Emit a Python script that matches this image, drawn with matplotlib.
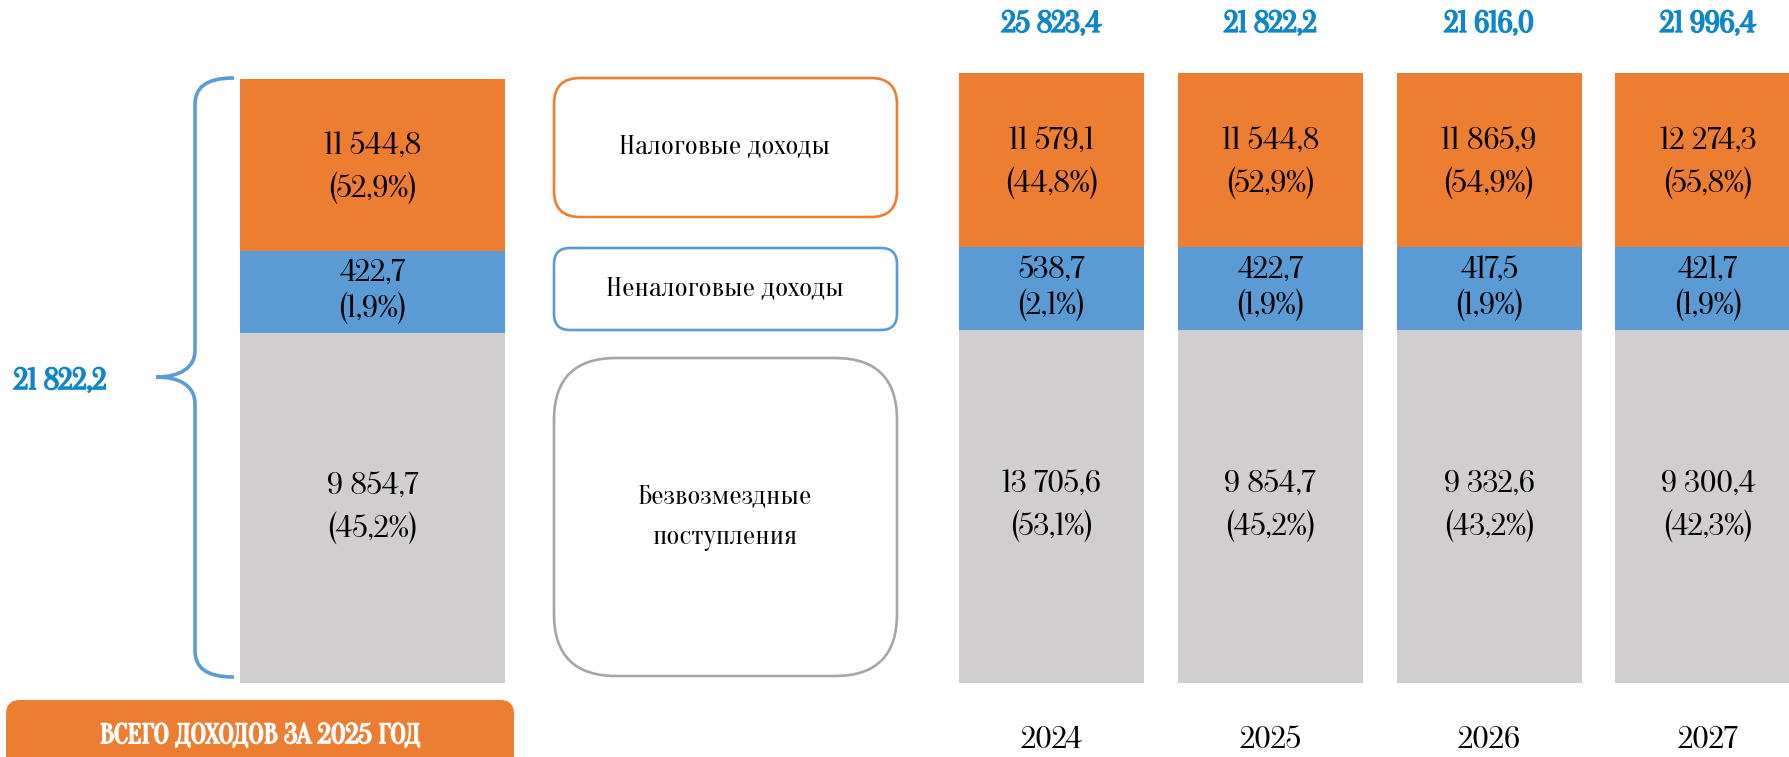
import matplotlib
matplotlib.use('Agg')
import matplotlib.pyplot as plt
import matplotlib.patheffects as pe
from matplotlib.patches import FancyBboxPatch, PathPatch
from matplotlib.path import Path

plt.rcParams['font.family'] = ['Oranienbaum', 'DejaVu Serif']

# data (млн руб.)
years = ['2024', '2025', '2026', '2027']
totals = [25823.4, 21822.2, 21616.0, 21996.4]
tax = [11579.1, 11544.8, 11865.9, 12274.3]
tax_pct = [44.8, 52.9, 54.9, 55.8]
nontax = [538.7, 422.7, 417.5, 421.7]
nontax_pct = [2.1, 1.9, 1.9, 1.9]
free = [13705.6, 9854.7, 9332.6, 9300.4]
free_pct = [53.1, 45.2, 43.2, 42.3]
# the reference draws every bar with the same bands (not to scale), % of bar
drawn_free = [57.9, 57.9, 57.9, 57.9]
drawn_nontax = [13.6, 13.6, 13.6, 13.6]
drawn_tax = [28.5, 28.5, 28.5, 28.5]
year_2025 = 1

ORANGE = '#ED7D31'
BLUE = '#5B9BD5'
GREY = '#D0CECE'
TOTAL_BLUE = '#0F86C8'

W, H = 1790, 757
VAL_FS = 23


def fmt(v):
    return f"{v:,.1f}".replace(',', ' ').replace('.', ',')


def pct(p):
    return f"({p:.1f}%)".replace('.', ',')


def bold(color):
    return [pe.withStroke(linewidth=1.2, foreground=color)]


def frame(x0, y0, x1, y1):
    # pixel box (top-left origin) -> figure fraction
    return [x0 / W, 1 - y1 / H, (x1 - x0) / W, (y1 - y0) / H]


def stacked(ax, idx, xs, width):
    b1 = [drawn_free[i] for i in idx]
    b2 = [drawn_nontax[i] for i in idx]
    b3 = [drawn_tax[i] for i in idx]
    ax.bar(xs, b1, width=width, color=GREY)
    ax.bar(xs, b2, bottom=b1, width=width, color=BLUE)
    bot3 = [a + b for a, b in zip(b1, b2)]
    ax.bar(xs, b3, bottom=bot3, width=width, color=ORANGE)
    for x, i in zip(xs, idx):
        ax.text(x, drawn_free[i] / 2, fmt(free[i]) + '\n' + pct(free_pct[i]),
                ha='center', va='center', fontsize=VAL_FS, linespacing=1.4)
        ax.text(x, drawn_free[i] + drawn_nontax[i] / 2, fmt(nontax[i]) + '\n' + pct(nontax_pct[i]),
                ha='center', va='center', fontsize=VAL_FS, linespacing=1.12)
        ax.text(x, drawn_free[i] + drawn_nontax[i] + drawn_tax[i] / 2 - 0.5,
                fmt(tax[i]) + '\n' + pct(tax_pct[i]),
                ha='center', va='center', fontsize=VAL_FS, linespacing=1.4)
    ax.set_ylim(0, 100)
    for s in ax.spines.values():
        s.set_visible(False)
    ax.set_yticks([])


fig = plt.figure(figsize=(W / 100, H / 100), dpi=100)

# right: four years
pitch = 218.8
axr = fig.add_axes(frame(942, 73, 1790, 683))
xs = list(range(len(years)))
stacked(axr, xs, xs, 185 / pitch)
axr.set_xlim(-0.5, (1790 - 1051.5) / pitch)
axr.set_xticks(xs)
axr.set_xticklabels(years, fontsize=VAL_FS)
axr.tick_params(axis='x', length=0, pad=31)
for x, t in zip(xs, totals):
    axr.text(x, 107.9, fmt(t), ha='center', va='center', fontsize=21.5,
             color=TOTAL_BLUE, clip_on=False, path_effects=bold(TOTAL_BLUE))

# left: structure of 2025
axl = fig.add_axes(frame(240, 79, 505, 683))
stacked(axl, [year_2025], [0], 1.0)
axl.set_xlim(-0.5, 0.5)
axl.set_xticks([])

# overlay in pixel coordinates
ov = fig.add_axes([0, 0, 1, 1], facecolor='none')
ov.set_xlim(0, W)
ov.set_ylim(H, 0)
ov.axis('off')

# brace
verts = [(234, 78), (205, 78), (195, 88), (195, 105),
         (195, 350),
         (195, 368), (180, 377), (156, 377),
         (180, 377), (195, 386), (195, 404),
         (195, 650),
         (195, 667), (205, 677), (234, 677)]
codes = [Path.MOVETO] + [Path.CURVE4] * 3 + [Path.LINETO] + [Path.CURVE4] * 6 + \
        [Path.LINETO] + [Path.CURVE4] * 3
ov.add_patch(PathPatch(Path(verts, codes), fill=False, edgecolor=BLUE, lw=2.6))
ov.text(60, 382, fmt(totals[year_2025]), ha='center', va='center', fontsize=21.5,
        color=TOTAL_BLUE, path_effects=bold(TOTAL_BLUE))

# legend boxes
boxes = [(78, 217, 26, ORANGE, 'Налоговые доходы'),
         (248, 330, 16, BLUE, 'Неналоговые доходы'),
         (358, 676, 62, '#A6A6A6', 'Безвозмездные\nпоступления')]
for y0, y1, r, c, label in boxes:
    ov.add_patch(FancyBboxPatch((554, y0), 343, y1 - y0,
                                boxstyle=f'round,pad=0,rounding_size={r}',
                                facecolor='white', edgecolor=c, lw=1.9))
    ov.text(725, (y0 + y1) / 2 + 1, label, ha='center', va='center',
            fontsize=20, linespacing=1.75)

# bottom caption
ov.add_patch(FancyBboxPatch((6, 700), 508, 100, boxstyle='round,pad=0,rounding_size=14',
                            facecolor=ORANGE, edgecolor='none'))
ov.text(260, 737, 'ВСЕГО ДОХОДОВ ЗА 2025 ГОД', ha='center', va='center',
        fontsize=20, color='white', path_effects=bold('white'))

fig.savefig('out.png', dpi=100)
